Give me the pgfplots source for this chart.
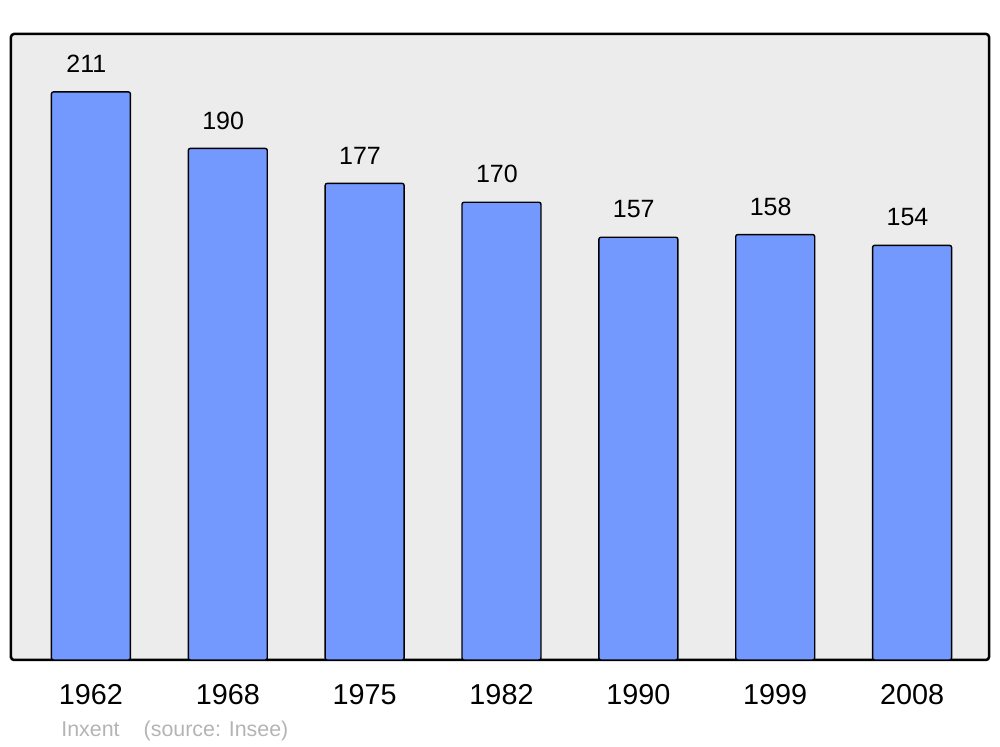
\documentclass[border=0pt]{standalone}
\usepackage{pgfplots}
\pgfplotsset{compat=1.18}
\usepackage{fontspec}
\setmainfont{Liberation Sans}
\definecolor{barblue}{HTML}{7399FF}
\definecolor{bggray}{HTML}{ECECEC}
\definecolor{srcgray}{HTML}{B4B4B4}
\begin{document}
\begin{tikzpicture}
\begin{axis}[
  name=ax,
  scale only axis,
  width=489pt, height=313pt,
  xmin=-0.584, xmax=6.562,
  ymin=0, ymax=232.5,
  axis background/.style={fill=bggray},
  axis line style={line width=1.25pt, rounded corners=1.5pt},
  ytick=\empty,
  xtick={0,1,2,3,4,5,6},
  xticklabels={1962,1968,1975,1982,1990,1999,2008},
  xtick style={draw=none},
  xticklabel style={font=\fontsize{14.4}{16}\selectfont, anchor=center, yshift=-17.5pt},
  /pgf/number format/assume math mode=true,
  clip=false,
]
\addplot[ybar, bar width=0.577, fill=barblue, draw=black, line width=0.7pt, rounded corners=1pt,
  nodes near coords,
  nodes near coords style={font=\fontsize{12.5}{14}\selectfont, anchor=center, yshift=14pt, xshift=-2.3pt, /pgf/number format/assume math mode=true}]
  coordinates {(0,211) (1,190) (2,177) (3,170) (4,157) (5,158) (6,154)};
\end{axis}
\node[anchor=west, text=srcgray, font=\fontsize{10.7}{12}\selectfont, inner sep=0pt] at ([xshift=25pt, yshift=-35.5pt]ax.south west) {Inxent\hspace{12pt}(source: Insee)};
\useasboundingbox ([xshift=-5.5pt, yshift=-43.5pt]ax.south west) rectangle ([xshift=5.5pt, yshift=17pt]ax.north east);
\end{tikzpicture}
\end{document}
